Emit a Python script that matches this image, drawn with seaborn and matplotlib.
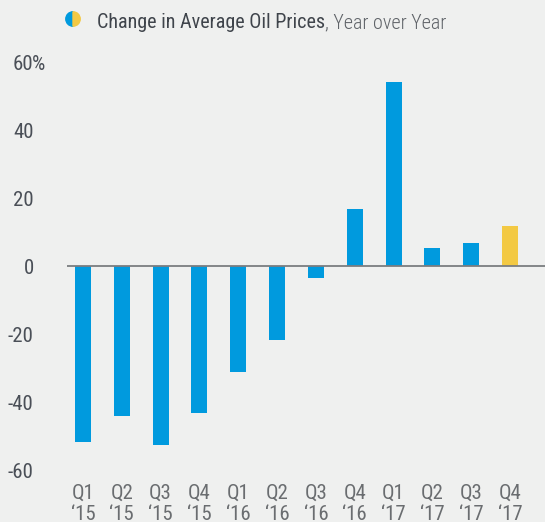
import numpy as np
import pandas as pd
import matplotlib
matplotlib.use("Agg")
import matplotlib.pyplot as plt
from matplotlib.patches import Wedge
import seaborn as sns

# dati
quarters = ["Q1\n\u201815", "Q2\n\u201815", "Q3\n\u201815", "Q4\n\u201815",
            "Q1\n\u201816", "Q2\n\u201816", "Q3\n\u201816", "Q4\n\u201816",
            "Q1\n\u201817", "Q2\n\u201817", "Q3\n\u201817", "Q4\n\u201817"]
change = [-51.7, -44.2, -52.6, -43.1, -31.2, -21.7, -3.6, 16.7, 54.0, 5.4, 6.9, 11.9]
estimate = [False] * 11 + [True]
yticks = [60, 40, 20, 0, -20, -40, -60]
ytick_labels = ["60", "40", "20", "0", "-20", "-40", "-60"]

BLUE = "#009ADE"
YELLOW = "#F3C943"
BG = "#EFF0EF"

df = pd.DataFrame({"quarter": quarters, "change": change,
                   "kind": ["est" if e else "act" for e in estimate]})

sns.set_theme(style="white")
plt.rcParams["font.family"] = ["Roboto Condensed", "DejaVu Sans"]
plt.rcParams["axes.unicode_minus"] = False

fig = plt.figure(figsize=(5.45, 5.22), dpi=100, facecolor=BG)
ax = fig.add_axes([0.123, 0.0996, 0.877, 0.7816])
ax.set_facecolor(BG)

sns.barplot(data=df, x="quarter", y="change", hue="kind",
            palette={"act": BLUE, "est": YELLOW}, width=0.41,
            dodge=False, legend=False, saturation=1, linewidth=0, ax=ax)

ax.axhline(0, color="#7a7d80", lw=1.3, zorder=3)
ax.set_ylim(-60, 60)
ax.set_xlim(-0.41, 11.9)
ax.set_yticks(yticks)
ax.set_yticklabels(ytick_labels, color="#4a4f57", fontsize=15)
ax.tick_params(axis="x", colors="#6a6d70", labelsize=15, length=0, pad=10)
ax.tick_params(axis="y", length=0, pad=24)
for lab in ax.get_xticklabels():
    lab.set_linespacing(1.15)
ax.set_xlabel("")
ax.set_ylabel("")
sns.despine(ax=ax, left=True, bottom=True)

# il simbolo % sporge a destra del primo valore
top_label = ax.get_yticklabels()[0]
ax.annotate("%", xy=(1, 0), xycoords=top_label, xytext=(-1, 0),
            textcoords="offset points", va="bottom", ha="left",
            fontsize=15, color="#4a4f57", annotation_clip=False)

# legenda con cerchio bicolore
lax = fig.add_axes([64 / 545, 1 - 28 / 522, 18 / 545, 18 / 522])
lax.set_xlim(-1, 1)
lax.set_ylim(-1, 1)
lax.set_aspect("equal")
lax.axis("off")
lax.add_patch(Wedge((0, 0), 0.8, 90, 270, color=BLUE))
lax.add_patch(Wedge((0, 0), 0.8, 270, 90, color=YELLOW))

t1 = fig.text(97 / 545, 1 - 32 / 522, "Change in Average Oil Prices",
              fontsize=14.5, color="#3f444b", weight=400, va="bottom", ha="left")
ax.annotate(", Year over Year", xy=(1, 0), xycoords=t1, va="bottom", ha="left",
            fontsize=14.5, color="#5f6368", weight=300, annotation_clip=False)

plt.savefig("out.png", dpi=100, facecolor=BG)
